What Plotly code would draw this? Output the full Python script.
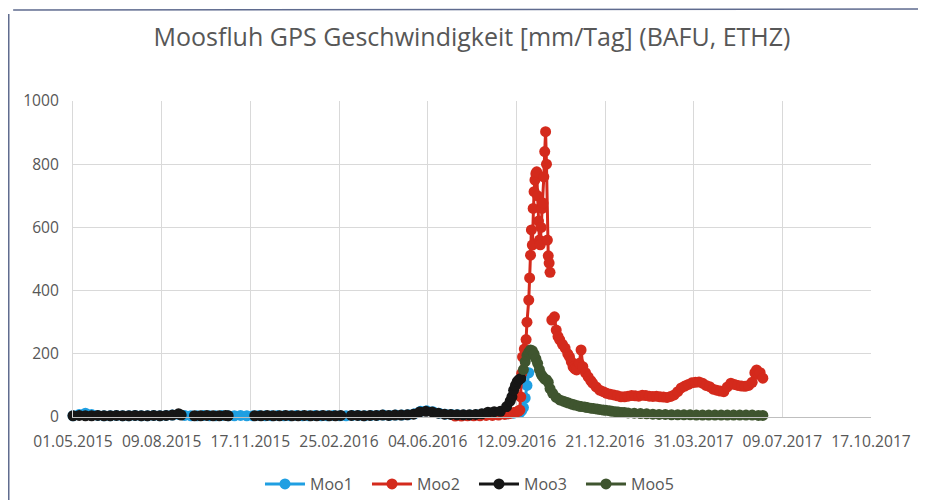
import plotly.graph_objects as go

# ---------------- data ----------------
moo1_dates = [
    '2015-05-01','2015-05-08','2015-05-15','2015-05-22','2015-05-29','2015-06-05','2015-06-12','2015-06-19',
    '2015-06-26','2015-07-03','2015-07-10','2015-07-17','2015-07-24','2015-07-31','2015-08-07','2015-08-14',
    '2015-08-21','2015-08-28','2015-09-04','2015-09-11','2015-09-18','2015-09-25','2015-10-02','2015-10-09',
    '2015-10-16','2015-10-23','2015-10-30','2015-11-06','2015-11-13','2015-11-20','2015-11-27','2015-12-04',
    '2015-12-11','2015-12-18','2015-12-25','2016-01-01','2016-01-08','2016-01-15','2016-01-22','2016-01-29',
    '2016-02-05','2016-02-12','2016-02-19','2016-02-26','2016-03-04','2016-03-11','2016-03-18','2016-03-25',
    '2016-04-01','2016-04-08','2016-04-15','2016-04-22','2016-04-29','2016-05-06','2016-05-13','2016-05-20',
    '2016-05-27','2016-06-03','2016-06-10','2016-06-17','2016-06-24','2016-07-01','2016-07-08','2016-07-15',
    '2016-07-22','2016-07-29','2016-08-05','2016-08-12','2016-08-19','2016-08-26','2016-09-02','2016-09-09',
    '2016-09-16','2016-09-18','2016-09-20','2016-09-22','2016-09-24','2016-09-26']
moo1_values = [
    4, 8, 12, 8, 5, 4, 4, 5,
    4, 4, 5, 4, 4, 5, 4, 5,
    6, 8, 5, 4, 4, 5, 4, 4,
    5, 4, 4, 5, 4, 4, 5, 4,
    4, 5, 4, 4, 5, 4, 4, 5,
    4, 4, 5, 4, 4, 5, 5, 4,
    5, 5, 6, 5, 6, 6, 7, 10,
    18, 20, 17, 12, 9, 8, 7, 6,
    6, 7, 9, 10, 10, 11, 10, 12,
    14, 20, 30, 60, 100, 140]

moo2_dates = [
    '2016-07-05','2016-07-12','2016-07-19','2016-07-26','2016-08-02','2016-08-09','2016-08-16','2016-08-23',
    '2016-08-30','2016-09-03','2016-09-06','2016-09-09','2016-09-12','2016-09-14','2016-09-16','2016-09-17',
    '2016-09-18','2016-09-19','2016-09-21','2016-09-23','2016-09-24','2016-09-26','2016-09-27','2016-09-28',
    '2016-09-29','2016-09-30','2016-10-01','2016-10-02','2016-10-03','2016-10-04','2016-10-05','2016-10-06',
    '2016-10-07','2016-10-08','2016-10-09','2016-10-10','2016-10-11','2016-10-12','2016-10-13','2016-10-14',
    '2016-10-15','2016-10-16','2016-10-17','2016-10-18','2016-10-19','2016-10-20','2016-10-21','2016-10-22',
    '2016-10-25','2016-10-27','2016-10-29','2016-10-31','2016-11-03','2016-11-06','2016-11-09','2016-11-11',
    '2016-11-13','2016-11-15','2016-11-17','2016-11-19','2016-11-22','2016-11-24','2016-11-26','2016-11-29',
    '2016-12-02','2016-12-05','2016-12-07','2016-12-11','2016-12-15','2016-12-19','2016-12-23','2016-12-27',
    '2016-12-31','2017-01-04','2017-01-08','2017-01-12','2017-01-16','2017-01-20','2017-01-24','2017-01-28',
    '2017-02-01','2017-02-05','2017-02-09','2017-02-13','2017-02-17','2017-02-21','2017-02-25','2017-03-01',
    '2017-03-05','2017-03-09','2017-03-13','2017-03-17','2017-03-21','2017-03-25','2017-03-29','2017-04-02',
    '2017-04-06','2017-04-10','2017-04-14','2017-04-18','2017-04-22','2017-04-26','2017-04-30','2017-05-04',
    '2017-05-08','2017-05-12','2017-05-16','2017-05-20','2017-05-24','2017-05-28','2017-06-01','2017-06-05',
    '2017-06-08','2017-06-10','2017-06-12','2017-06-14','2017-06-17']
moo2_values = [
    3, 3, 4, 4, 4, 5, 5, 6,
    8, 10, 12, 14, 16, 18, 22, 64,
    138, 190, 215, 245, 300, 370, 440, 512,
    592, 544, 660, 713, 750, 770, 776, 700,
    620, 560, 545, 600, 660, 677, 760, 840,
    903, 800, 560, 510, 487, 458, None, 307,
    317, 275, 255, 244, 230, 218, 200, 190,
    175, 159, 152, 149, 170, 212, 159, 140,
    127, 115, 107, 95, 85, 80, 75, 72,
    70, 67, 64, 64, 66, 68, 67, 66,
    69, 68, 66, 65, 66, 64, 63, 62,
    65, 70, 80, 92, 98, 103, 108, 110,
    111, 107, 100, 96, 88, 85, 82, 80,
    95, 107, 103, 100, 98, 97, 100, 110,
    140, 149, 135, 140, 123]

moo3_dates = [
    '2015-05-01','2015-05-08','2015-05-15','2015-05-22','2015-05-29','2015-06-05','2015-06-12','2015-06-19',
    '2015-06-26','2015-07-03','2015-07-10','2015-07-17','2015-07-24','2015-07-31','2015-08-07','2015-08-14',
    '2015-08-21','2015-08-28','2015-08-31','2015-09-07',
    '2015-09-15','2015-09-22','2015-09-29','2015-10-06','2015-10-13','2015-10-20','2015-10-23','2015-11-06',
    '2015-11-22','2015-11-29','2015-12-06','2015-12-13','2015-12-20','2015-12-27','2016-01-03','2016-01-10',
    '2016-01-17','2016-01-24','2016-01-31','2016-02-07','2016-02-14','2016-02-21','2016-02-27','2016-03-04',
    '2016-03-10','2016-03-17','2016-03-24','2016-03-31','2016-04-07','2016-04-14','2016-04-21','2016-04-28',
    '2016-05-05','2016-05-12','2016-05-19','2016-05-26','2016-06-02','2016-06-09','2016-06-16','2016-06-23',
    '2016-06-30','2016-07-07','2016-07-14','2016-07-21','2016-07-28','2016-08-04','2016-08-11','2016-08-18',
    '2016-08-25','2016-09-01','2016-09-05','2016-09-07','2016-09-09','2016-09-11','2016-09-13','2016-09-15',
    '2016-09-17']
moo3_values = [
    4, 5, 4, 4, 5, 4, 4, 5,
    4, 4, 5, 4, 4, 5, 4, 5,
    6, 10, 6, None,
    4, 4, 5, 4, 4, 5, 4, None,
    4, 4, 5, 4, 4, 5, 4, 4,
    5, 4, 4, 5, 4, 4, 5, None,
    5, 5, 4, 5, 5, 6, 5, 6,
    6, 7, 9, 16, 18, 16, 12, 9,
    8, 7, 7, 7, 8, 10, 15, 17,
    18, 33, 50, 64, 85, 100, 112, 118,
    122]

moo5_dates = [
    '2016-09-20','2016-09-22','2016-09-24','2016-09-26','2016-09-28','2016-09-30','2016-10-02','2016-10-04',
    '2016-10-06','2016-10-08','2016-10-10','2016-10-12','2016-10-14','2016-10-16','2016-10-18','2016-10-20',
    '2016-10-23','2016-10-27','2016-10-31','2016-11-04','2016-11-07','2016-11-10','2016-11-14','2016-11-17',
    '2016-11-21','2016-11-24','2016-11-28','2016-12-01','2016-12-05','2016-12-08','2016-12-12','2016-12-15',
    '2016-12-19','2016-12-22','2016-12-26','2016-12-29','2017-01-02','2017-01-05','2017-01-09','2017-01-12',
    '2017-01-16','2017-01-23','2017-01-30','2017-02-06','2017-02-13','2017-02-20','2017-02-27','2017-03-06',
    '2017-03-13','2017-03-20','2017-03-27','2017-04-03','2017-04-10','2017-04-17','2017-04-24','2017-05-01',
    '2017-05-08','2017-05-15','2017-05-22','2017-05-29','2017-06-05','2017-06-12','2017-06-17']
moo5_values = [
    150, 175, 195, 205, 212, 210, 200, 185,
    170, 150, 135, 127, 120, 118, 110, 90,
    75, 62, 54, 50, 47, 44, 40, 38,
    35, 33, 32, 30, 28, 27, 25, 24,
    22, 21, 20, 18, 17, 16, 14, 14,
    13, 12, 11, 10, 9, 8, 8, 7,
    7, 7, 7, 6, 6, 6, 6, 6,
    6, 6, 6, 6, 6, 5, 5]

series_names = ['Moo1', 'Moo2', 'Moo3', 'Moo5']
series_colors = ['#1f9fe2', '#d42a1c', '#161616', '#3f552f']

x_range = ['2015-05-01', '2017-10-17']
y_range = [0, 1000]
y_dtick = 200
x_dtick_days = 100
title_text = 'Moosfluh GPS Geschwindigkeit [mm/Tag] (BAFU, ETHZ)'

# ---------------- figure ----------------
fig = go.Figure()
all_series = [(moo1_dates, moo1_values), (moo2_dates, moo2_values),
              (moo3_dates, moo3_values), (moo5_dates, moo5_values)]
for (d, v), name, col in zip(all_series, series_names, series_colors):
    fig.add_trace(go.Scatter(
        x=d, y=v, name=name, mode='lines+markers',
        line=dict(color=col, width=3),
        marker=dict(color=col, size=11),
        connectgaps=False, cliponaxis=False))

txt_col = '#575757'
font_family = 'Open Sans, Lato, sans-serif'

# page body has an 8px default margin, so the figure is 918x492
fig.update_layout(
    width=918, height=492,
    margin=dict(l=65, r=55, t=93, b=83, autoexpand=False),
    paper_bgcolor='white', plot_bgcolor='white',
    font=dict(family=font_family, color=txt_col, size=15.6),
    title=dict(text=title_text, x=0.5054, xanchor='center', y=0.941, yanchor='middle',
               font=dict(size=25, color=txt_col, family=font_family)),
    showlegend=True,
    legend=dict(orientation='h', xref='container', yref='container',
                x=0.2745, xanchor='left', y=0.0325, yanchor='middle',
                font=dict(size=16, color=txt_col), itemwidth=40,
                entrywidth=52, entrywidthmode='pixels',
                itemclick=False, bgcolor='rgba(0,0,0,0)'),
    xaxis=dict(type='date', range=x_range, tick0=x_range[0], dtick=x_dtick_days * 86400000,
               tickformat='%d.%m.%Y', showgrid=True, gridcolor='#d9d9d9', gridwidth=1,
               showline=True, linecolor='#bfbfbf', linewidth=1, ticks='',
               ticklabelstandoff=10, zeroline=False, automargin=False,
               tickfont=dict(size=15.6, color=txt_col)),
    yaxis=dict(range=y_range, dtick=y_dtick, showgrid=True, gridcolor='#d9d9d9', gridwidth=1,
               showline=True, linecolor='#d9d9d9', linewidth=1, ticks='',
               ticklabelstandoff=10, zeroline=False, automargin=False,
               tickfont=dict(size=15.6, color=txt_col)),
)

# chart-area frame (decorative border as in the reference screenshot)
frame_col = '#5f6b8f'
fig.add_shape(type='line', xref='paper', yref='paper',
              x0=-0.0805, x1=-0.0805, y0=-0.27, y1=1.275,
              line=dict(color=frame_col, width=1.5))
fig.add_shape(type='line', xref='paper', yref='paper',
              x0=-0.075, x1=1.07, y0=1.288, y1=1.291,
              line=dict(color=frame_col, width=1.5))

fig.write_html('out.html')
